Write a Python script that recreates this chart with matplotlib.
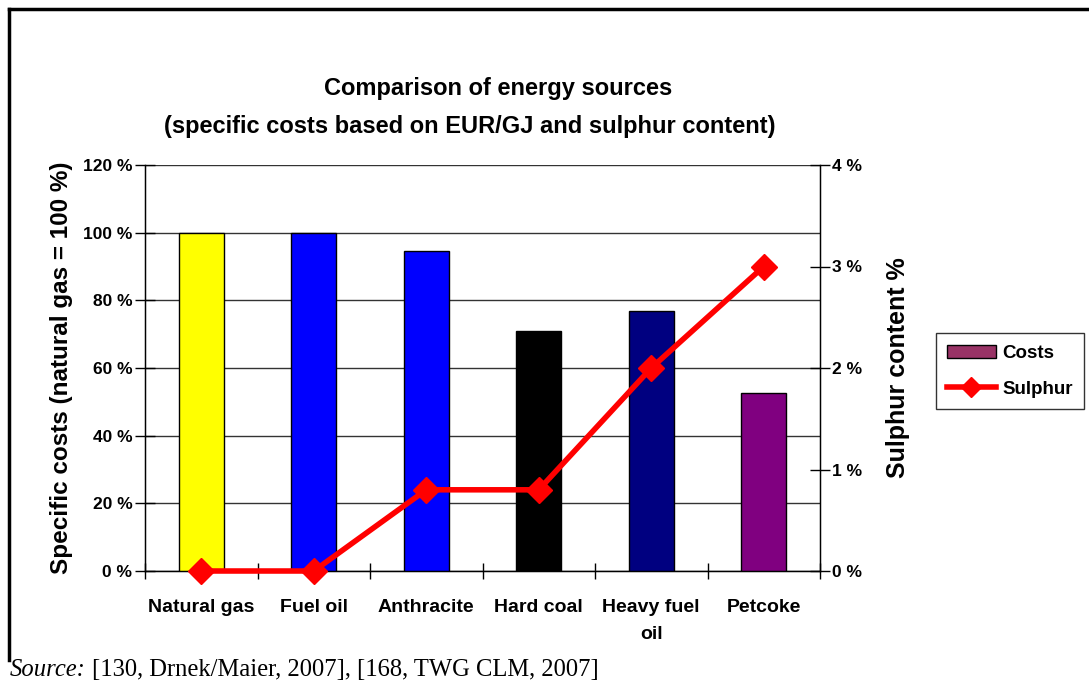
import matplotlib
matplotlib.use("Agg")
import matplotlib.pyplot as plt
from matplotlib.lines import Line2D
from matplotlib.patches import Patch
import numpy as np

categories = ["Natural gas", "Fuel oil", "Anthracite", "Hard coal", "Heavy fuel\noil", "Petcoke"]
costs = [100, 100, 94.5, 71, 76.7, 52.5]
sulphur = [0, 0, 0.8, 0.8, 2.0, 3.0]
bar_colors = ["#FFFF00", "#0000FF", "#0000FF", "#000000", "#000080", "#800080"]
left_ticks = [0, 20, 40, 60, 80, 100, 120]
right_ticks = [0, 1, 2, 3, 4]

plt.rcParams['font.family'] = ['Liberation Sans', 'DejaVu Sans']

fig = plt.figure(figsize=(10.89, 6.86), dpi=100)
ax = fig.add_axes([145/1089, 1-571/686, (820-145)/1089, (571-165)/686])

x = np.arange(len(categories))
ax.bar(x, costs, width=0.4, color=bar_colors, edgecolor="black", linewidth=1, zorder=3)
ax.set_ylim(0, 120)
ax.set_xlim(-0.5, len(categories)-0.5)
ax.set_yticks(left_ticks)
ax.set_yticklabels([f"{v} %" for v in left_ticks], fontsize=12.5, fontweight="bold")
ax.yaxis.grid(True, color="#333333", linewidth=1, zorder=0)
ax.set_axisbelow(True)
ax.set_xticks(x)
ax.set_xticklabels(categories, fontsize=14, fontweight="bold", linespacing=1.75)
ax.set_xticks(np.arange(len(categories)+1)-0.5, minor=True)
ax.tick_params(axis="x", which="major", length=0, pad=20)
ax.tick_params(axis="x", which="minor", direction="inout", length=12, width=1)
ax.tick_params(axis="y", direction="inout", length=14, width=1, pad=2)
ax.spines["top"].set_visible(False)
for s in ["left", "right", "bottom"]:
    ax.spines[s].set_linewidth(1)
ax.set_ylabel("Specific costs (natural gas = 100 %)", fontsize=17.5, fontweight="bold", labelpad=7)

ax2 = ax.twinx()
ax2.plot(x, sulphur, color="#FF0000", linewidth=4, marker="D", markersize=13, zorder=5, clip_on=False)
ax2.set_ylim(0, 4)
ax2.set_yticks(right_ticks)
ax2.set_yticklabels([f"{v} %" for v in right_ticks], fontsize=12.5, fontweight="bold")
ax2.tick_params(axis="y", direction="inout", length=14, width=1, pad=2)
ax2.spines["top"].set_visible(False)
ax2.set_ylabel("Sulphur content %", fontsize=18, fontweight="bold", labelpad=17)

fig.text(498/1089, 1-88/686, "Comparison of energy sources", ha="center", va="center",
         fontsize=17, fontweight="bold")
fig.text(470/1089, 1-127/686, "(specific costs based on EUR/GJ and sulphur content)", ha="center", va="center",
         fontsize=17, fontweight="bold")

handles = [Patch(facecolor="#993366", edgecolor="black", linewidth=1),
           Line2D([0], [0], color="#FF0000", linewidth=4, marker="D", markersize=10)]
leg = fig.legend(handles, ["Costs", "Sulphur"], loc="center", bbox_to_anchor=(1010/1089, 1-371/686),
                 prop={"size": 13.5, "weight": "bold"}, frameon=True, fancybox=False, edgecolor="black",
                 handlelength=2.6, handleheight=0.7, borderpad=0.6, labelspacing=1.0, handletextpad=0.35,
                 borderaxespad=0)
leg.get_frame().set_linewidth(1)

# outer frame
fig.add_artist(Line2D([9/1089, 9/1089], [1-660/686, 1-9/686], color="black", linewidth=2.5, transform=fig.transFigure))
fig.add_artist(Line2D([9/1089, 1.0], [1-9/686, 1-9/686], color="black", linewidth=2.5, transform=fig.transFigure))

t1 = fig.text(10/1089, 1-676/686, "Source:", fontsize=17.7, family="Liberation Serif", style="italic", va="baseline")
fig.canvas.draw()
bb = t1.get_window_extent()
fig.text((bb.x1 + 6)/1089, 1-676/686, "[130, Drnek/Maier, 2007], [168, TWG CLM, 2007]", fontsize=17.7,
         family="Liberation Serif", va="baseline")

fig.savefig("out.png", dpi=100)
